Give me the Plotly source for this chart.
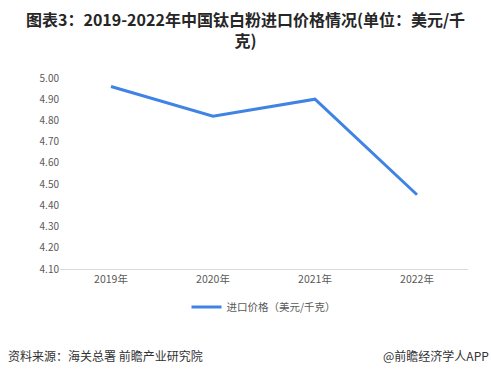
import plotly.graph_objects as go

years = ["2019年", "2020年", "2021年", "2022年"]
prices = [4.96, 4.82, 4.90, 4.45]
series_name = "进口价格（美元/千克）"
title_text = "图表3：2019-2022年中国钛白粉进口价格情况(单位：美元/千<br>克)"
source_text = "资料来源：海关总署 前瞻产业研究院"
brand_text = "@前瞻经济学人APP"

FONT = "Noto Sans CJK SC"
H, T, B, L, R = 375, 78, 106, 60, 23
PH = H - T - B
PW = 491 - L - R


def py(px):  # pixel from top -> paper y
    return (H - B - px) / PH


def pxx(px):  # pixel from left -> paper x
    return (px - L) / PW


fig = go.Figure()
fig.add_trace(go.Scatter(
    x=years, y=prices, mode="lines", name=series_name,
    line=dict(color="#3f84e4", width=3),
))

fig.update_layout(
    width=491, height=H,
    margin=dict(l=L, r=R, t=T, b=B),
    paper_bgcolor="white", plot_bgcolor="white",
    font=dict(family=FONT, size=10, color="#595959"),
    showlegend=True,
    legend=dict(orientation="h", x=0.5, xanchor="center", y=py(307), yanchor="middle",
                font=dict(family=FONT, size=10.5, color="#595959")),
    xaxis=dict(type="category", range=[-0.5, 3.5], showgrid=False,
               showline=True, linecolor="#d9d9d9", linewidth=1,
               ticks="", tickfont=dict(size=10.5, color="#595959")),
    yaxis=dict(range=[4.1, 5.0], dtick=0.1, tick0=4.1, tickformat=".2f",
               showgrid=False, zeroline=False, showline=False,
               ticks="", ticklen=0, tickfont=dict(size=10, color="#595959")),
)

fig.add_annotation(text=title_text, xref="paper", yref="paper", x=pxx(245.5), xanchor="center",
                   y=py(29), yanchor="middle", showarrow=False, align="center",
                   font=dict(family=FONT, size=16, color="#262626", weight="bold"))

fig.add_annotation(text=source_text, xref="paper", yref="paper", x=pxx(6), xanchor="left",
                   y=py(355), yanchor="middle", showarrow=False,
                   font=dict(family=FONT, size=12, color="#333333"))
fig.add_annotation(text=brand_text, xref="paper", yref="paper", x=pxx(491), xanchor="right",
                   y=py(355), yanchor="middle", showarrow=False,
                   font=dict(family=FONT, size=12, color="#333333"))

fig.write_html("out.html")
